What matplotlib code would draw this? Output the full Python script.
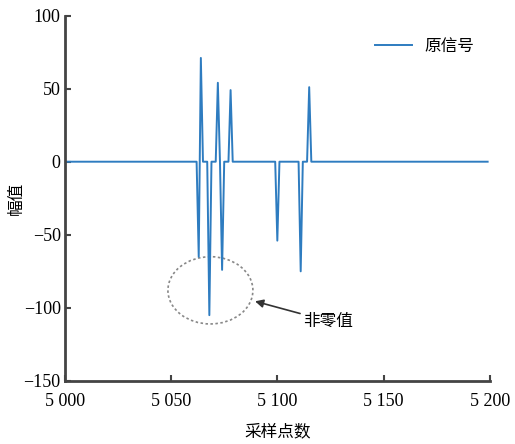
import numpy as np
import matplotlib.pyplot as plt
from matplotlib.patches import Ellipse

plt.rcParams['font.family'] = ['Liberation Serif', 'Noto Sans CJK SC']

# sample range and the non-zero samples of the signal
x_start = 5000
x_end = 5199
spike_pos = [5063, 5064, 5068, 5072, 5074, 5078, 5100, 5111, 5115]
spike_val = [-65, 71, -105, 54, -74, 49, -54, -75, 51]

xticks = [5000, 5050, 5100, 5150, 5200]
xticklabels = ['5 000', '5 050', '5 100', '5 150', '5 200']
yticks = [-150, -100, -50, 0, 50, 100]

n = np.arange(x_start, x_end + 1)
sig = np.zeros(len(n))
for p, v in zip(spike_pos, spike_val):
    sig[p - x_start] = v

fig = plt.figure(figsize=(5.15, 4.44), dpi=100)
ax = fig.add_axes([0.126, 0.142, 0.825, 0.823])
ax.plot(n, sig, color='#2e7cc0', lw=1.4, label='原信号')

ax.set_xlim(5000, 5200)
ax.set_ylim(-150, 100)
ax.set_xticks(xticks)
ax.set_xticklabels(xticklabels)
ax.set_yticks(yticks)
ax.set_yticklabels(['\u2212150', '\u2212100', '\u221250', '0', '50', '100'])
ax.tick_params(direction='in', length=4, width=1.5, color='#444444', labelsize=13)
ax.tick_params(axis='x', pad=9)
ax.tick_params(axis='y', pad=3)

for s in ['top', 'right']:
    ax.spines[s].set_visible(False)
for s in ['left', 'bottom']:
    ax.spines[s].set_linewidth(2)
    ax.spines[s].set_color('#444444')

ax.set_xlabel('采样点数', fontsize=12, family=['Noto Sans CJK SC'], labelpad=9)
ax.set_ylabel('幅值', fontsize=12, family=['Noto Sans CJK SC'], labelpad=-1)

ax.add_patch(Ellipse((5068.5, -88), 40, 46, fill=False, ls=(0, (1.5, 1.5)),
                     ec='#888888', lw=1.2))
ax.annotate('非零值', xy=(5089.5, -95.5), xytext=(5112, -109),
            fontsize=12, family=['Noto Sans CJK SC'], va='center',
            arrowprops=dict(arrowstyle='-|>', color='#333333', lw=1.2,
                            shrinkA=0, shrinkB=0, mutation_scale=12))

leg = ax.legend(loc='upper right', frameon=False,
                prop={'family': ['Noto Sans CJK SC'], 'size': 12},
                handlelength=2.2, bbox_to_anchor=(1.0, 0.98))

fig.savefig('out.png', dpi=100)
